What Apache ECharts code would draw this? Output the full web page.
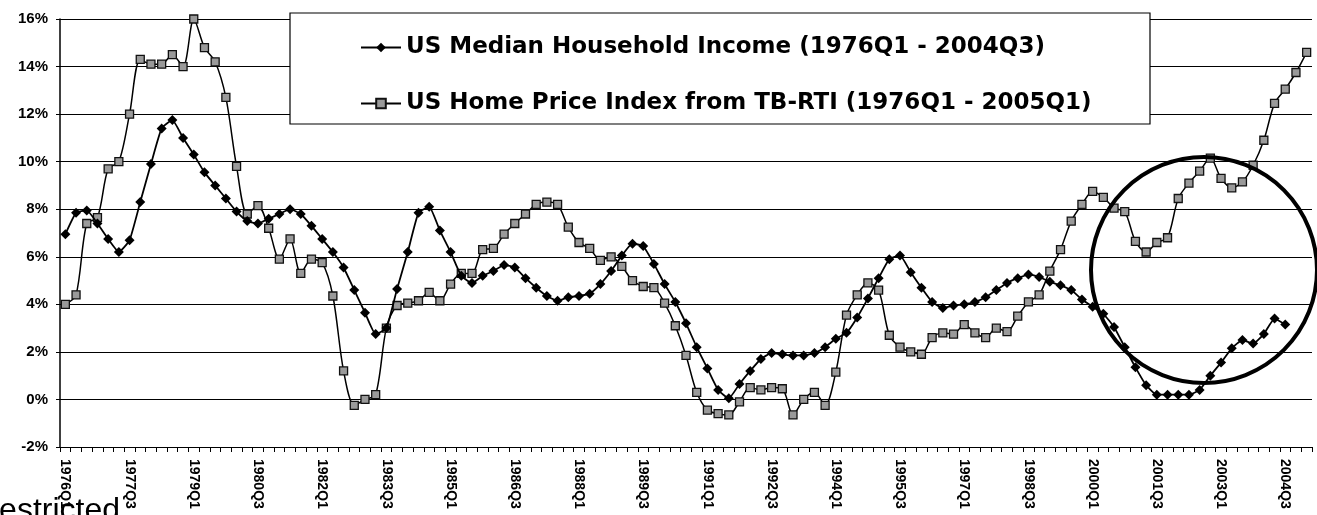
<!DOCTYPE html>
<html>
<head>
<meta charset="utf-8">
<script src="https://cdn.jsdelivr.net/npm/echarts@6/dist/echarts.min.js"></script>
<style>
html,body{margin:0;padding:0;background:#fff;}
#c{width:1317px;height:515px;}
</style>
</head>
<body>
<div id="c"></div>
<script>
// ---- data ----
const startYear = 1976;
const quarterCount = 117; // 1976Q1 .. 2005Q1
const categories = [];
for (let i = 0; i < quarterCount; i++) {
  categories.push((startYear + Math.floor(i / 4)) + 'Q' + (i % 4 + 1));
}
const incomeName = 'US Median Household Income (1976Q1 - 2004Q3)';
const homeName = 'US Home Price Index from TB-RTI (1976Q1 - 2005Q1)';

// US median household income, yoy % (1976Q1 - 2004Q3)
const incomeValues = [
  6.95, 7.85, 7.95, 7.4, 6.75, 6.2, 6.7, 8.3, 9.9, 11.4,
  11.75, 11.0, 10.3, 9.55, 9.0, 8.45, 7.9, 7.5, 7.4, 7.6,
  7.8, 8.0, 7.8, 7.3, 6.75, 6.2, 5.55, 4.6, 3.65, 2.75,
  3.0, 4.65, 6.2, 7.85, 8.1, 7.1, 6.2, 5.2, 4.9, 5.2,
  5.4, 5.65, 5.55, 5.1, 4.7, 4.35, 4.15, 4.3, 4.35, 4.45,
  4.85, 5.4, 6.05, 6.55, 6.45, 5.7, 4.85, 4.1, 3.2, 2.2,
  1.3, 0.4, 0.05, 0.65, 1.2, 1.7, 1.95, 1.9, 1.85, 1.85,
  1.95, 2.2, 2.55, 2.8, 3.45, 4.25, 5.1, 5.9, 6.05, 5.35,
  4.7, 4.1, 3.85, 3.95, 4.0, 4.1, 4.3, 4.6, 4.9, 5.1,
  5.25, 5.15, 4.95, 4.8, 4.6, 4.2, 3.9, 3.6, 3.05, 2.2,
  1.35, 0.6, 0.2, 0.2, 0.2, 0.2, 0.4, 1.0, 1.55, 2.15,
  2.5, 2.35, 2.75, 3.4, 3.15
];

// US home price index (TB-RTI), yoy % (1976Q1 - 2005Q1)
const homeValues = [
  4.0, 4.4, 7.4, 7.65, 9.7, 10.0, 12.0, 14.3, 14.1, 14.1,
  14.5, 14.0, 16.0, 14.8, 14.2, 12.7, 9.8, 7.8, 8.15, 7.2,
  5.9, 6.75, 5.3, 5.9, 5.75, 4.35, 1.2, -0.25, 0.0, 0.2,
  3.0, 3.95, 4.05, 4.15, 4.5, 4.15, 4.85, 5.3, 5.3, 6.3,
  6.35, 6.95, 7.4, 7.8, 8.2, 8.3, 8.2, 7.25, 6.6, 6.35,
  5.85, 6.0, 5.6, 5.0, 4.75, 4.7, 4.05, 3.1, 1.85, 0.3,
  -0.45, -0.6, -0.65, -0.1, 0.5, 0.4, 0.5, 0.45, -0.65, 0.0,
  0.3, -0.25, 1.15, 3.55, 4.4, 4.9, 4.6, 2.7, 2.2, 2.0,
  1.9, 2.6, 2.8, 2.75, 3.15, 2.8, 2.6, 3.0, 2.85, 3.5,
  4.1, 4.4, 5.4, 6.3, 7.5, 8.2, 8.75, 8.5, 8.05, 7.9,
  6.65, 6.2, 6.6, 6.8, 8.45, 9.1, 9.6, 10.15, 9.3, 8.9,
  9.15, 9.85, 10.9, 12.45, 13.05, 13.75, 14.6
];

const yMin = -2, yMax = 16, yStep = 2;
const labelEvery = 6;
const watermarkText = 'Restricted';

// ---- chart ----
const chart = echarts.init(document.getElementById('c'), null, {renderer: 'canvas'});
const font = '"Liberation Sans", Arial, sans-serif';

chart.setOption({
  animation: false,
  backgroundColor: '#fff',
  grid: {left: 60, right: 5, top: 19, bottom: 68, containLabel: false},
  xAxis: {
    type: 'category',
    data: categories,
    boundaryGap: true,
    axisLine: {show: true, onZero: false, lineStyle: {color: '#000', width: 1.2}},
    axisTick: {show: true, interval: 0, length: 5, lineStyle: {color: '#000', width: 1}},
    axisLabel: {
      interval: labelEvery - 1, rotate: -90, margin: 12,
      color: '#000', fontWeight: 'bold', fontSize: 14, fontFamily: font
    },
    splitLine: {show: false}
  },
  yAxis: {
    type: 'value', min: yMin, max: yMax, interval: yStep,
    axisLine: {show: true, lineStyle: {color: '#000', width: 1.5}},
    axisTick: {show: true, length: 4, lineStyle: {color: '#000'}},
    axisLabel: {
      formatter: '{value}%', margin: 12,
      color: '#000', fontWeight: 'bold', fontSize: 15, fontFamily: font
    },
    splitLine: {show: true, lineStyle: {color: '#000', width: 1}}
  },
  legend: {
    data: [incomeName, homeName],
    orient: 'vertical',
    left: 355, top: 31,
    itemGap: 33, itemWidth: 40, itemHeight: 12,
    z: 20,
    textStyle: {fontSize: 23, fontWeight: 'bold', color: '#000', fontFamily: '"DejaVu Sans", sans-serif'}
  },
  graphic: [
    {type: 'rect', z: 15, shape: {x: 290, y: 13, width: 860, height: 111},
     style: {fill: '#fff', stroke: '#000', lineWidth: 1.2}},
    {type: 'circle', z: 30, shape: {cx: 1204, cy: 270, r: 113},
     style: {fill: 'none', stroke: '#000', lineWidth: 4}},
    {type: 'text', z: 30, x: -24, y: 495,
     style: {text: watermarkText, font: '32px "Liberation Sans", Arial, sans-serif', fill: '#000'}}
  ],
  series: [
    {
      name: incomeName, type: 'line', data: incomeValues,
      smooth: 0.15, symbol: 'diamond', symbolSize: 10, showAllSymbol: true, z: 3,
      lineStyle: {color: '#000', width: 1.8},
      itemStyle: {color: '#000', borderColor: '#000', borderWidth: 0}
    },
    {
      name: homeName, type: 'line', data: homeValues,
      smooth: 0.3, symbol: 'rect', symbolSize: 8, showAllSymbol: true, z: 2,
      lineStyle: {color: '#000', width: 1.5},
      itemStyle: {color: '#9a9a9a', borderColor: '#111', borderWidth: 1.3}
    }
  ]
});
</script>
</body>
</html>
